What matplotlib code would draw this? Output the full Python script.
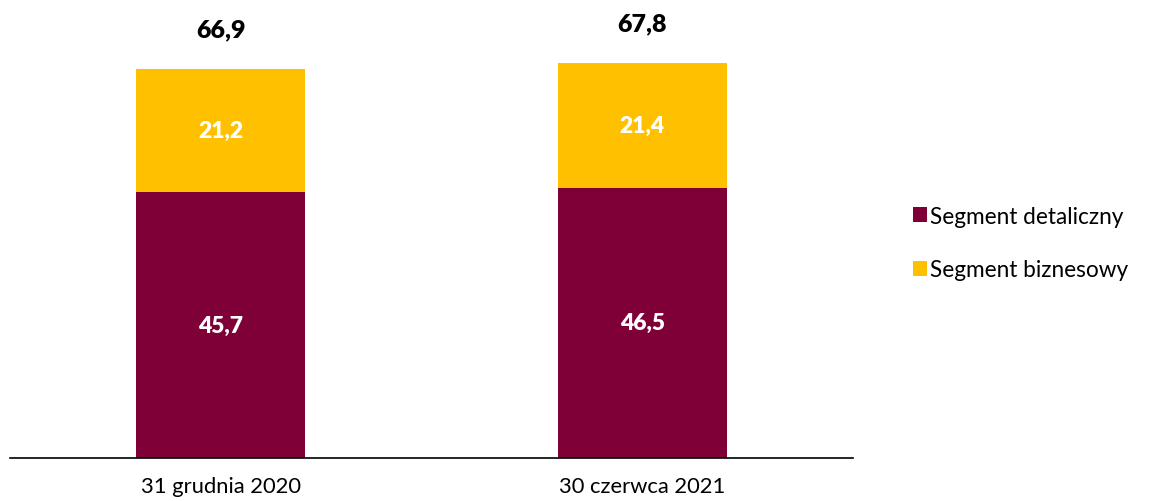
import numpy as np
import matplotlib.pyplot as plt

plt.rcParams['font.family'] = ['Lato', 'DejaVu Sans']

kategorie = ['31 grudnia 2020', '30 czerwca 2021']
detaliczny = [45.7, 46.5]
biznesowy = [21.2, 21.4]
sumy = [66.9, 67.8]

kolor_det = '#7F0037'
kolor_biz = '#FFC000'

fig = plt.figure(figsize=(11.52, 5.02), dpi=100)
ax = fig.add_axes([10/1152, 1 - 459/502, 843/1152, 449/502])

x = np.arange(len(kategorie))
b1 = ax.bar(x, detaliczny, width=0.4, color=kolor_det, label='Segment detaliczny')
b2 = ax.bar(x, biznesowy, width=0.4, bottom=detaliczny, color=kolor_biz, label='Segment biznesowy')

for i in range(len(x)):
    ax.text(x[i], detaliczny[i] / 2, f'{detaliczny[i]:.1f}'.replace('.', ','),
            ha='center', va='center', color='white', fontsize=16.5, fontweight='heavy')
    ax.text(x[i], detaliczny[i] + biznesowy[i] / 2, f'{biznesowy[i]:.1f}'.replace('.', ','),
            ha='center', va='center', color='white', fontsize=16.5, fontweight='heavy')
    ax.text(x[i], sumy[i] + 5.0, f'{sumy[i]:.1f}'.replace('.', ','),
            ha='center', va='bottom', color='black', fontsize=18, fontweight='heavy')

ax.set_xlim(-0.5, 1.5)
ax.set_ylim(0, 77.2)
ax.set_xticks(x)
ax.set_xticklabels(kategorie, fontsize=15.8)
ax.tick_params(axis='x', length=0, pad=13)
ax.set_yticks([])
for s in ['top', 'right', 'left']:
    ax.spines[s].set_visible(False)
ax.spines['bottom'].set_color('black')
ax.spines['bottom'].set_linewidth(1.2)

fig.legend(handles=[b1, b2], loc='center left', bbox_to_anchor=(893/1152, 1 - 244/502),
           frameon=False, fontsize=16.3, handlelength=0.6, handleheight=0.6,
           handletextpad=0.15, labelspacing=1.45)

fig.savefig('out.png', dpi=100)
